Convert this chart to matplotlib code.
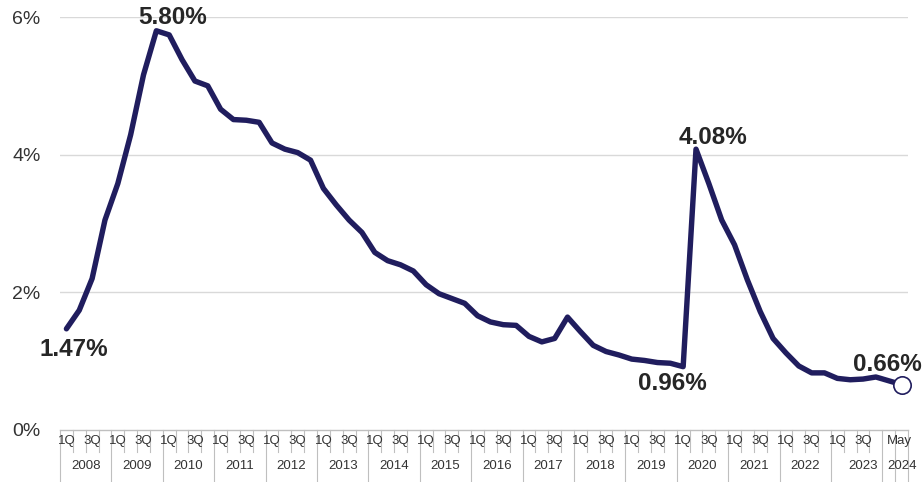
import numpy as np
import matplotlib
matplotlib.use("Agg")
import matplotlib.pyplot as plt
import matplotlib.transforms as mtrans

plt.rcParams['font.family'] = ['Liberation Sans', 'DejaVu Sans']

# quarterly values 1Q 2008 .. 4Q 2023 (percent), then May 2024
quarterly = [1.47, 1.74, 2.20, 3.05, 3.58, 4.29, 5.16, 5.80,
             5.74, 5.38, 5.07, 5.00, 4.66, 4.51, 4.50, 4.47,
             4.17, 4.08, 4.03, 3.92, 3.51, 3.27, 3.05, 2.87,
             2.58, 2.46, 2.40, 2.31, 2.11, 1.98, 1.91, 1.84,
             1.66, 1.57, 1.53, 1.52, 1.36, 1.28, 1.33, 1.64,
             1.43, 1.23, 1.14, 1.09, 1.03, 1.01, 0.98, 0.97,
             0.92, 4.08, 3.58, 3.05, 2.69, 2.18, 1.72, 1.33,
             1.12, 0.93, 0.83, 0.83, 0.75, 0.73, 0.74, 0.77]
may_2024 = 0.66
years = [str(y) for y in range(2008, 2025)]
yticks = [0, 2, 4, 6]

# labelled points: (list index, text, offset in points)
callouts = [(0, "1.47%", (5, -15)),
            (7, "5.80%", (11.5, 9.5)),
            (48, "0.96%", (-8, -12)),
            (49, "4.08%", (12, 8.6)),
            (-1, "0.66%", (-10, 14.5))]

navy = '#201d5e'
grid_c = '#d9d9d9'
box_c = '#bfbfbf'
txt_c = '#333333'

x = list(range(len(quarterly))) + [len(quarterly) + 1]
y = quarterly + [may_2024]

fig = plt.figure(figsize=(9.22, 4.82), dpi=100)
ax = fig.add_axes([60 / 922, 52 / 482, 848 / 922, 413 / 482])
ax.set_xlim(-0.5, 65.5)
ax.set_ylim(0, 6)

for v in yticks[1:]:
    ax.axhline(v, color=grid_c, lw=1, zorder=0)

ax.plot(x, y, color=navy, lw=3.9, solid_joinstyle='round',
        solid_capstyle='round', clip_on=False, zorder=3)
ax.plot(x[-1], y[-1], 'o', ms=12.5, mfc='white', mec=navy, mew=1.2,
        clip_on=False, zorder=4)

for i, t, off in callouts:
    ax.annotate(t, (x[i], y[i]), xytext=off, textcoords='offset points',
                ha='center', va='center', fontsize=17.5, fontweight='bold',
                color='#262626', annotation_clip=False)

for s in ax.spines.values():
    s.set_visible(False)
ax.set_xticks([])
ax.set_yticks(yticks)
ax.set_yticklabels([f"{v}%" for v in yticks], fontsize=14, color=txt_c)
ax.tick_params(axis='y', length=0, pad=14)

# category axis box drawn below the plot
tr = mtrans.blended_transform_factory(ax.transData, fig.transFigure)
y_axis = 52 / 482
y_row = 30 / 482
y_bot = 0.0
ax.plot([-0.5, 65.5], [y_axis, y_axis], color=box_c, lw=1, transform=tr, clip_on=False)
year_edges = [4 * k - 0.5 for k in range(17)] + [64.5, 65.5]
for b in np.arange(-0.5, 66, 1.0):
    bottom = y_bot if b in year_edges else y_row
    ax.plot([b, b], [y_axis, bottom], color=box_c, lw=0.8, transform=tr, clip_on=False)

for k in range(16):
    ax.text(4 * k, 41 / 482, "1Q", transform=tr, ha='center', va='center',
            fontsize=9.5, color=txt_c)
    ax.text(4 * k + 2, 41 / 482, "3Q", transform=tr, ha='center', va='center',
            fontsize=9.5, color=txt_c)
ax.text(64.8, 41 / 482, "May", transform=tr, ha='center', va='center',
        fontsize=9.5, color=txt_c)

for k, yr in enumerate(years):
    if k < 15:
        xc = 4 * k + 1.5
    elif k == 15:
        xc = 62
    else:
        xc = 65
    ax.text(xc, 16 / 482, yr, transform=tr, ha='center', va='center',
            fontsize=9.5, color=txt_c)

fig.savefig("out.png", dpi=100)
